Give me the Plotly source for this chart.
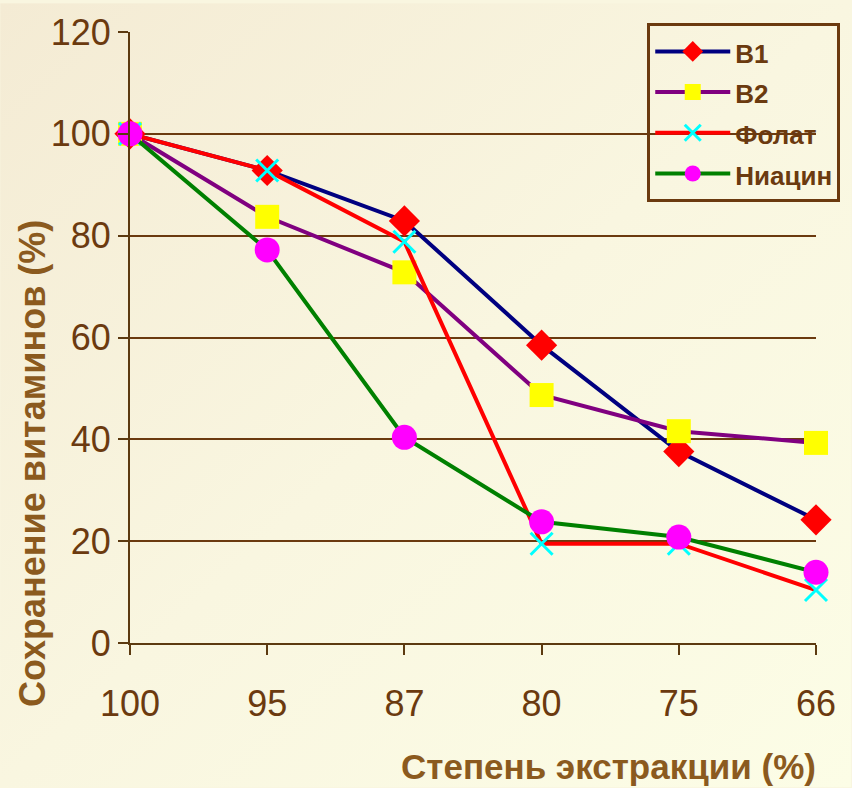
import plotly.graph_objects as go

categories = ["100", "95", "87", "80", "75", "66"]
b1 = [100, 92.8, 82.9, 58.5, 37.6, 24.2]
b2 = [100, 83.7, 72.8, 48.7, 41.6, 39.3]
folate = [100, 92.8, 78.8, 19.5, 19.5, 10.4]
niacin = [100, 77.2, 40.4, 23.8, 20.8, 13.9]
names = ["B1", "B2", "Фолат", "Ниацин"]

styles = [
    ("#000080", dict(symbol="diamond", color="#FF0000", size=24)),
    ("#800080", dict(symbol="square", color="#FFFF00", size=24)),
    ("#FF0000", dict(symbol="x-thin-open", color="#00FFFF", size=22,
                     line=dict(color="#00FFFF", width=3))),
    ("#008000", dict(symbol="circle", color="#FF00FF", size=25)),
]

fig = go.Figure()
xs = list(range(len(categories)))
for name, vals, (lc, mk) in zip(names, [b1, b2, folate, niacin], styles):
    fig.add_trace(go.Scatter(
        x=xs, y=vals, name="<span style='font-size:26px'><b>" + name + "</b></span>",
        mode="lines+markers",
        line=dict(color=lc, width=4), marker=mk, cliponaxis=False,
    ))

brown = "#6B3A0F"
title_brown = "#8B5A1E"
bg_svg = (
    "data:image/svg+xml;utf8,"
    "<svg xmlns='http://www.w3.org/2000/svg' width='852' height='788'>"
    "<defs><linearGradient id='g' x1='0' y1='0' x2='1' y2='1'>"
    "<stop offset='0' stop-color='%23F4EBD4'/><stop offset='0.5' stop-color='%23F9F6E0'/>"
    "<stop offset='1' stop-color='%23FCFDE6'/></linearGradient></defs>"
    "<rect width='852' height='788' fill='url(%23g)'/></svg>"
)

L, R, T, B = 130, 35, 29, 145
W, H = 852, 788
pw, ph = W - L - R, H - T - B

fig.update_layout(
    width=W, height=H,
    margin=dict(l=L, r=R, t=T, b=B),
    paper_bgcolor="#F9F6E0",
    plot_bgcolor="rgba(0,0,0,0)",
    font=dict(family="Liberation Sans, Arial, sans-serif", color=brown),
    images=[dict(source=bg_svg, xref="paper", yref="paper",
                 x=-L / pw, y=1 + T / ph, sizex=W / pw, sizey=H / ph,
                 xanchor="left", yanchor="top", sizing="stretch", layer="below")],
    xaxis=dict(
        tickmode="array", tickvals=xs, ticktext=categories,
        range=[0, 5], showgrid=False, zeroline=False,
        showline=True, linecolor="#5C3A10", linewidth=2,
        ticks="outside", ticklen=10, tickwidth=2, tickcolor="#5C3A10",
        tickfont=dict(size=36, color=brown), ticklabelstandoff=18,
    ),
    yaxis=dict(
        range=[0, 120], tickvals=[0, 20, 40, 60, 80, 100, 120],
        showgrid=True, gridcolor="#6B3A0F", gridwidth=2, zeroline=False,
        showline=True, linecolor="#5C3A10", linewidth=2,
        ticks="outside", ticklen=10, tickwidth=2, tickcolor="#5C3A10",
        tickfont=dict(size=36, color=brown),
    ),
    legend=dict(
        x=(648 - L) / pw, y=1 + (T - 20) / ph, xanchor="left", yanchor="top",
        bgcolor="rgba(0,0,0,0)", bordercolor="#6B3A0F", borderwidth=3,
        font=dict(size=29, color=brown, family="Liberation Sans, Arial, sans-serif"),
        itemwidth=75, tracegroupgap=0,
    ),
    annotations=[
        dict(text="<b>Степень экстракции (%)</b>", xref="paper", yref="paper",
             x=(609 - L) / pw, y=-(767 - (H - B)) / ph, showarrow=False,
             xanchor="center", yanchor="middle",
             font=dict(size=35, color=title_brown)),
        dict(text="<b>Сохранение витаминов (%)</b>", xref="paper", yref="paper",
             x=-(L - 33) / pw, y=(H - B - 463) / ph, showarrow=False, textangle=-90,
             xanchor="center", yanchor="middle",
             font=dict(size=36, color=title_brown)),
    ],
)

fig.write_html("out.html")
